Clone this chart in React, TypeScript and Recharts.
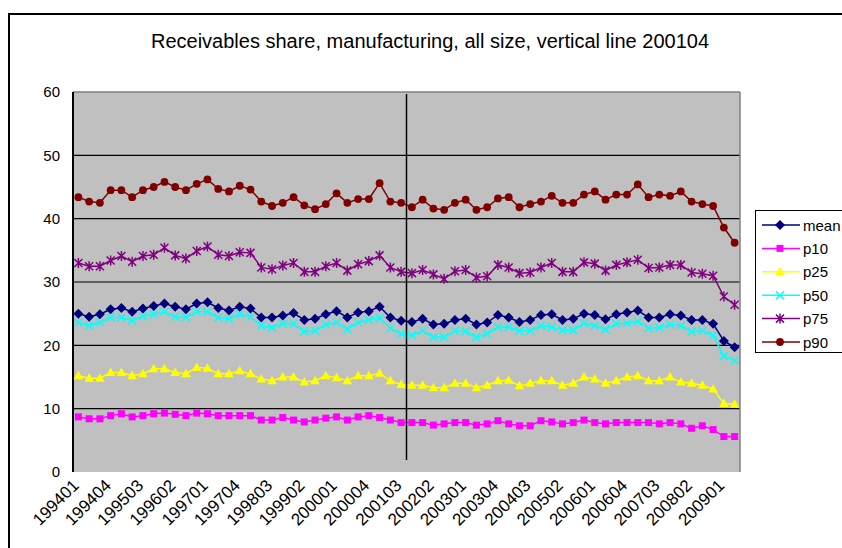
import React from 'react';
import { LineChart, Line, XAxis, YAxis, CartesianGrid, ReferenceLine, Legend } from 'recharts';

const quarters = [
  '199401','199402','199403','199404','199501','199502','199503','199504',
  '199601','199602','199603','199604','199701','199702','199703','199704',
  '199801','199802','199803','199804','199901','199902','199903','199904',
  '200001','200002','200003','200004','200101','200102','200103','200104',
  '200201','200202','200203','200204','200301','200302','200303','200304',
  '200401','200402','200403','200404','200501','200502','200503','200504',
  '200601','200602','200603','200604','200701','200702','200703','200704',
  '200801','200802','200803','200804','200901','200902',
];

const meanValues = [
  25.0,24.5,24.9,25.7,25.9,25.3,25.8,26.2,26.6,26.1,25.7,26.6,26.8,25.9,25.5,26.1,25.8,24.4,24.4,24.7,25.1,
  24.0,24.2,24.9,25.4,24.4,25.2,25.4,26.1,24.4,23.9,23.7,24.2,23.3,23.4,24.0,24.2,23.3,23.6,24.8,24.4,23.7,24.0,24.8,24.9,24.0,24.2,
  25.0,24.8,24.1,24.9,25.2,25.5,24.4,24.4,24.9,24.7,24.0,24.0,23.4,20.7,19.7,
];
const p10Values = [
  8.7,8.4,8.4,8.9,9.2,8.7,8.9,9.2,9.3,9.1,8.9,9.3,9.2,8.9,8.9,8.9,8.9,8.2,8.2,8.6,8.2,
  7.9,8.2,8.5,8.7,8.2,8.7,8.9,8.6,8.2,7.8,7.8,7.8,7.4,7.6,7.8,7.8,7.4,7.6,8.1,7.6,7.3,7.3,8.1,7.9,7.6,7.8,
  8.2,7.8,7.6,7.8,7.8,7.8,7.8,7.6,7.8,7.6,6.9,7.3,6.7,5.6,5.6,
];
const p25Values = [
  15.2,14.8,14.8,15.7,15.7,15.2,15.5,16.3,16.3,15.7,15.5,16.5,16.4,15.5,15.5,16.0,15.5,14.7,14.4,15.0,15.0,
  14.2,14.4,15.2,14.9,14.4,15.2,15.2,15.6,14.4,13.8,13.7,13.7,13.3,13.3,14.0,14.0,13.3,13.7,14.4,14.5,13.6,14.0,14.4,14.4,13.7,14.0,
  15.0,14.7,14.0,14.4,15.0,15.2,14.4,14.4,15.0,14.2,14.0,13.7,13.1,10.8,10.7,
];
const p50Values = [
  23.6,23.1,23.6,24.4,24.4,23.9,24.6,24.9,25.3,24.5,24.4,25.3,25.3,24.4,24.2,24.9,24.5,23.1,22.8,23.4,23.4,
  22.2,22.3,23.3,23.6,22.6,23.6,24.0,24.3,22.7,21.8,21.6,22.3,21.3,21.3,22.3,22.2,21.3,21.8,22.9,22.9,22.3,22.3,23.1,22.9,22.4,22.4,
  23.5,23.1,22.5,23.4,23.5,23.8,22.7,22.8,23.3,23.1,22.2,22.3,21.6,18.3,17.6,
];
const p75Values = [
  33.0,32.5,32.5,33.4,34.1,33.2,34.1,34.3,35.4,34.2,33.7,34.9,35.6,34.3,34.1,34.7,34.6,32.3,32.0,32.6,33.0,
  31.6,31.6,32.5,33.0,31.8,32.8,33.3,34.2,32.3,31.6,31.4,31.9,31.2,30.5,31.7,31.9,30.7,30.9,32.7,32.3,31.4,31.5,32.3,33.0,31.6,31.6,
  33.1,32.9,31.8,32.7,33.1,33.5,32.2,32.3,32.7,32.7,31.5,31.3,31.0,27.7,26.4,
];
const p90Values = [
  43.4,42.7,42.5,44.5,44.5,43.4,44.5,45.0,45.8,45.0,44.5,45.5,46.2,44.7,44.3,45.2,44.6,42.7,42.0,42.5,43.4,
  42.1,41.5,42.3,44.0,42.5,43.1,43.1,45.6,42.7,42.5,41.8,43.0,41.6,41.4,42.5,43.0,41.4,41.8,43.2,43.4,41.8,42.3,42.7,43.6,42.5,42.5,
  43.8,44.3,43.0,43.8,43.8,45.4,43.4,43.8,43.6,44.3,42.7,42.3,42.0,38.6,36.2,
];

const yTicks = [0, 10, 20, 30, 40, 50, 60];
const gridValues = [10, 20, 30, 40, 50];
const labelStep = 3;
const verticalLineQuarter = '200104';
const title = 'Receivables share, manufacturing, all size, vertical line 200104';

const data = quarters.map((q, i) => ({
  i,
  q,
  mean: meanValues[i],
  p10: p10Values[i],
  p25: p25Values[i],
  p50: p50Values[i],
  p75: p75Values[i],
  p90: p90Values[i],
}));

const labelTicks = quarters.map((_, i) => i).filter((i) => i % labelStep === 0);
const boundaryTicks = [...quarters.map((_, i) => i - 0.5), quarters.length - 0.5];
const xDomain = [-0.5, quarters.length - 0.5];
const vIndex = quarters.indexOf(verticalLineQuarter) - 0.5;

type Kind = 'diamond' | 'square' | 'triangle' | 'x' | 'star' | 'circle';

const series: { key: string; name: string; color: string; kind: Kind }[] = [
  { key: 'mean', name: 'mean', color: '#000080', kind: 'diamond' },
  { key: 'p10', name: 'p10', color: '#FF00FF', kind: 'square' },
  { key: 'p25', name: 'p25', color: '#FFFF00', kind: 'triangle' },
  { key: 'p50', name: 'p50', color: '#00FFFF', kind: 'x' },
  { key: 'p75', name: 'p75', color: '#800080', kind: 'star' },
  { key: 'p90', name: 'p90', color: '#800000', kind: 'circle' },
];

function Marker({ kind, cx, cy, color }: { kind: Kind; cx: number; cy: number; color: string }) {
  switch (kind) {
    case 'diamond':
      return <polygon points={`${cx},${cy - 5} ${cx + 5},${cy} ${cx},${cy + 5} ${cx - 5},${cy}`} fill={color} />;
    case 'square':
      return <rect x={cx - 3.5} y={cy - 3.5} width={7} height={7} fill={color} />;
    case 'triangle':
      return <polygon points={`${cx},${cy - 5} ${cx + 4.8},${cy + 3.5} ${cx - 4.8},${cy + 3.5}`} fill={color} />;
    case 'x':
      return (
        <path d={`M${cx - 4},${cy - 4}L${cx + 4},${cy + 4}M${cx - 4},${cy + 4}L${cx + 4},${cy - 4}`} stroke={color} strokeWidth={1.5} fill="none" />
      );
    case 'star':
      return (
        <path
          d={`M${cx - 4},${cy - 4}L${cx + 4},${cy + 4}M${cx - 4},${cy + 4}L${cx + 4},${cy - 4}M${cx},${cy - 5}L${cx},${cy + 5}`}
          stroke={color}
          strokeWidth={1.5}
          fill="none"
        />
      );
    default:
      return <circle cx={cx} cy={cy} r={3.9} fill={color} />;
  }
}

const makeDot = (kind: Kind, color: string, key: string) => (props: any) => {
  const { cx, cy, index } = props;
  if (cx == null || cy == null) return <g key={`${key}-${index}`} />;
  return (
    <g key={`${key}-${index}`}>
      <Marker kind={kind} cx={cx} cy={cy} color={color} />
    </g>
  );
};

const XTick = (props: any) => {
  const { x, y, payload } = props;
  const px = x - 7;
  return (
    <text
      x={px}
      y={y}
      dy={12}
      textAnchor="end"
      fontSize={17}
      fill="#000"
      transform={`rotate(-45 ${px} ${y})`}
    >
      {quarters[payload.value]}
    </text>
  );
};

const LegendBox = () => (
  <div style={{ width: 100, height: 143, border: '1px solid #000', background: '#fff', boxSizing: 'border-box' }}>
    <svg width={98} height={141} style={{ display: 'block' }}>
      {series.map((s, k) => {
        const y = 14 + 23.4 * k;
        return (
          <g key={s.key}>
            <line x1={6} x2={44} y1={y} y2={y} stroke={s.color} strokeWidth={1.5} />
            <Marker kind={s.kind} cx={24} cy={y} color={s.color} />
            <text x={47} y={y + 5.5} fontSize={15} fill="#000">
              {s.name}
            </text>
          </g>
        );
      })}
    </svg>
  </div>
);

export default function App() {
  return (
    <div
      style={{
        position: 'fixed',
        left: 0,
        top: 0,
        width: 842,
        height: 548,
        overflow: 'hidden',
        background: '#fff',
        fontFamily: '"Liberation Sans", Arial, sans-serif',
      }}
    >
      <div
        style={{
          position: 'absolute',
          left: 8,
          top: 13,
          width: 900,
          height: 600,
          borderTop: '2px solid #000',
          borderLeft: '2px solid #000',
        }}
      />
      <div
        style={{
          position: 'absolute',
          left: 0,
          top: 30,
          width: 860,
          textAlign: 'center',
          fontSize: 20,
          color: '#000',
          whiteSpace: 'nowrap',
        }}
      >
        {title}
      </div>
      <div style={{ position: 'absolute', left: 0, top: 0 }}>
        <LineChart width={842} height={548} data={data} margin={{ top: 92, right: 102, bottom: 0, left: 13 }}>
          <CartesianGrid
            vertical={false}
            horizontalValues={gridValues}
            stroke="#000"
            strokeWidth={1.2}
            fill="#C0C0C0"
            fillOpacity={1}
          />
          <XAxis
            type="number"
            dataKey="i"
            domain={xDomain}
            ticks={boundaryTicks}
            interval={0}
            mirror
            height={0}
            tick={false}
            tickSize={5}
            tickLine={{ stroke: '#000', strokeWidth: 1 }}
            axisLine={{ stroke: '#000', strokeWidth: 2 }}
            allowDataOverflow
          />
          <XAxis
            xAxisId="lab"
            type="number"
            dataKey="i"
            domain={xDomain}
            ticks={labelTicks}
            interval={0}
            height={76}
            tick={<XTick />}
            tickLine={false}
            axisLine={false}
            tickSize={0}
            tickMargin={6}
            allowDataOverflow
          />
          <YAxis
            type="number"
            domain={[0, 60]}
            ticks={yTicks}
            interval={0}
            width={60}
            tickLine={false}
            tickMargin={7}
            axisLine={{ stroke: '#000', strokeWidth: 2 }}
            tick={{ fontSize: 15, fill: '#000' }}
          />
          <ReferenceLine y={60} stroke="#808080" strokeWidth={1.5} />
          <ReferenceLine x={quarters.length - 0.5} stroke="#808080" strokeWidth={1.5} />
          {series.map((s) => (
            <Line
              key={s.key}
              type="linear"
              dataKey={s.key}
              name={s.name}
              stroke={s.color}
              strokeWidth={1.5}
              dot={makeDot(s.kind, s.color, s.key)}
              activeDot={false}
              isAnimationActive={false}
            />
          ))}
          <ReferenceLine
            segment={[
              { x: vIndex, y: 59.7 },
              { x: vIndex, y: 1.9 },
            ]}
            stroke="#000"
            strokeWidth={1.5}
          />
          <Legend
            layout="vertical"
            align="center"
            verticalAlign="middle"
            content={<LegendBox />}
            wrapperStyle={{ position: 'absolute', left: 755, top: 210, width: 100, height: 143 }}
          />
        </LineChart>
      </div>
    </div>
  );
}
